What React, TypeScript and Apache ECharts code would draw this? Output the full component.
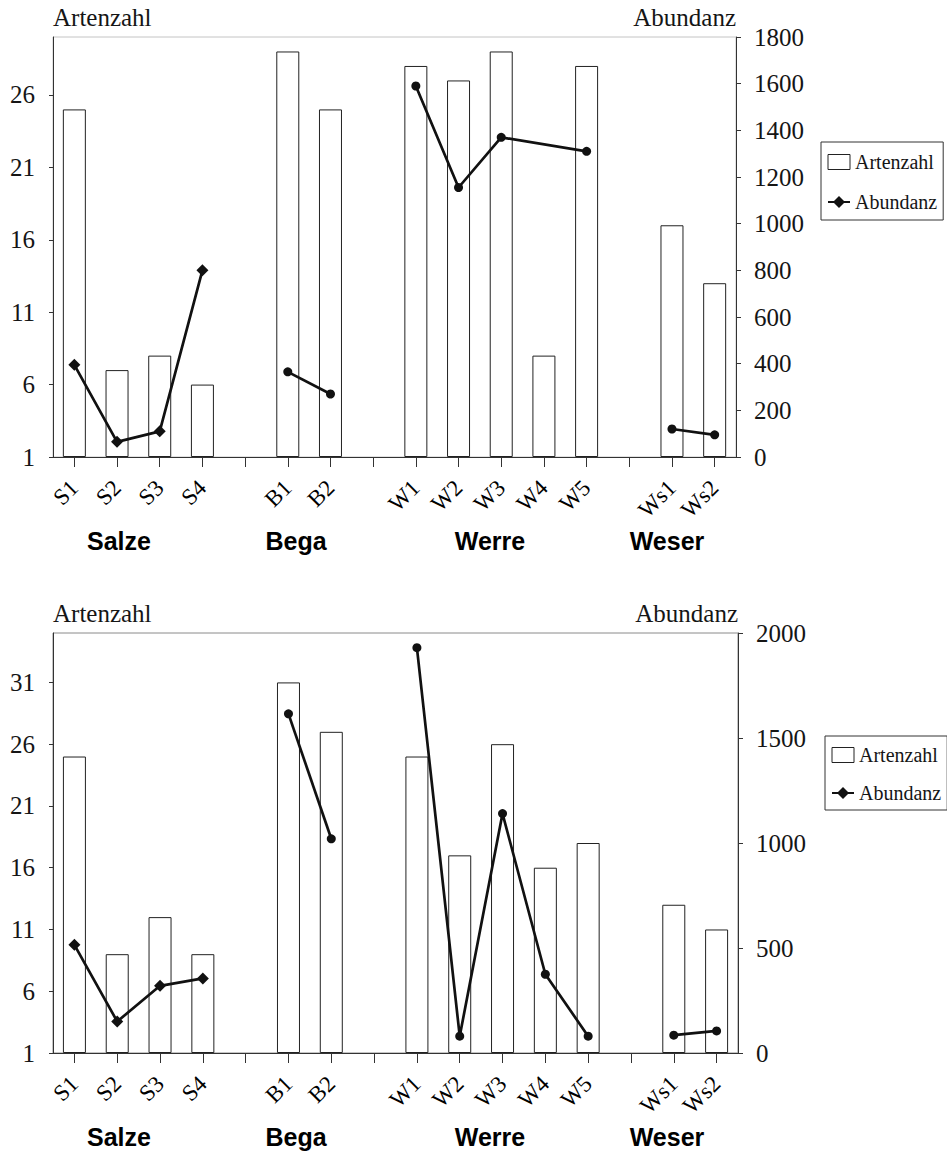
import React, { useEffect, useRef } from 'react';
import * as echarts from 'echarts';

// ---------- data ----------
const groupNames = ['Salze', 'Bega', 'Werre', 'Weser'];
const salzeSites = ['S1', 'S2', 'S3', 'S4'];
const begaSites = ['B1', 'B2'];
const werreSites = ['W1', 'W2', 'W3', 'W4', 'W5'];
const weserSites = ['Ws1', 'Ws2'];
const siteGroups = [salzeSites, begaSites, werreSites, weserSites];

// upper chart
const artenzahlTop = [25, 7, 8, 6, 29, 25, 28, 27, 29, 8, 28, 17, 13];
const abundanzTop: (number | null)[] = [395, 65, 110, 800, 365, 270, 1590, 1155, 1370, null, 1310, 120, 95];
// lower chart
const artenzahlBottom = [25, 9, 12, 9, 31, 27, 25, 17, 26, 16, 18, 13, 11];
const abundanzBottom: (number | null)[] = [515, 150, 320, 355, 1615, 1020, 1930, 80, 1140, 375, 80, 85, 105];

// tick labels
const leftTicksTop = [1, 6, 11, 16, 21, 26];
const rightTicksTop = [0, 200, 400, 600, 800, 1000, 1200, 1400, 1600, 1800];
const leftTicksBottom = [1, 6, 11, 16, 21, 26, 31];
const rightTicksBottom = [0, 500, 1000, 1500, 2000];
const leftMaxTop = 30;
const leftMaxBottom = 35;

// ---------- layout ----------
const SERIF = '"Liberation Serif", "Times New Roman", serif';
const SANS = '"Liberation Sans", Arial, sans-serif';
const INK = '#151515';

const panels = [
  {
    grid: { left: 53, top: 37, width: 683, height: 420 },
    artenzahl: artenzahlTop, abundanz: abundanzTop,
    leftTicks: leftTicksTop, leftMax: leftMaxTop, rightTicks: rightTicksTop,
    legend: { left: 821, top: 142, padding: [10, 6, 8, 6], itemGap: 20 },
    groupLabelY: 541, border: '#c4c4c4',
  },
  {
    grid: { left: 53, top: 633, width: 685, height: 420 },
    artenzahl: artenzahlBottom, abundanz: abundanzBottom,
    leftTicks: leftTicksBottom, leftMax: leftMaxBottom, rightTicks: rightTicksBottom,
    legend: { left: 825, top: 736, padding: [9, 6, 7, 6], itemGap: 18 },
    groupLabelY: 1137, border: '#8a8a8a',
  },
];
const groupLabelX = [119, 296, 490, 667];

function buildCategories() {
  const categories: string[] = [];
  const positions: number[] = [];
  const groupOf: number[] = [];
  siteGroups.forEach((sites, g) => {
    sites.forEach((s) => {
      positions.push(categories.length);
      groupOf.push(g);
      categories.push(s);
    });
    if (g < siteGroups.length - 1) categories.push('gap' + g);
  });
  return { categories, positions, groupOf };
}

export default function App() {
  const ref = useRef<HTMLDivElement>(null);

  useEffect(() => {
    document.body.style.margin = '0';
    if (!ref.current) return;
    const chart = echarts.init(ref.current, undefined, { renderer: 'svg' });
    const { categories, positions, groupOf } = buildCategories();

    const grids: any[] = [];
    const xAxes: any[] = [];
    const yAxes: any[] = [];
    const series: any[] = [];
    const legends: any[] = [];
    const graphics: any[] = [];

    panels.forEach((p, i) => {
      grids.push({ ...p.grid, show: true, borderColor: p.border, borderWidth: 1, backgroundColor: 'transparent' });
      xAxes.push({
        type: 'category', gridIndex: i, data: categories, boundaryGap: true,
        axisLine: { show: true, lineStyle: { color: '#333', width: 1 } },
        axisTick: { show: true, alignWithLabel: true, interval: 0, length: 10, lineStyle: { color: '#333' } },
        axisLabel: {
          interval: 0, rotate: 45, margin: 27, fontFamily: SERIF, fontSize: 23, color: '#000',
          formatter: (v: string) => (v.startsWith('gap') ? '' : v),
        },
        splitLine: { show: false },
      });
      const lt = p.leftTicks;
      yAxes.push({
        type: 'value', gridIndex: i, position: 'left',
        min: lt[0], max: p.leftMax, interval: lt[1] - lt[0], startValue: lt[0],
        name: 'Artenzahl', nameLocation: 'end', nameGap: 20,
        nameTextStyle: { align: 'left', verticalAlign: 'middle', fontFamily: SERIF, fontSize: 25, color: INK },
        axisLine: { show: true, lineStyle: { color: '#333', width: 1 } },
        axisTick: { show: true, length: 4, lineStyle: { color: '#333' } },
        axisLabel: {
          fontFamily: SERIF, fontSize: 25, color: INK, margin: 18, showMaxLabel: false,
          formatter: (v: number) => (lt.includes(v) ? String(v) : ''),
        },
        splitLine: { show: false },
      });
      const rt = p.rightTicks;
      yAxes.push({
        type: 'value', gridIndex: i, position: 'right',
        min: rt[0], max: rt[rt.length - 1], interval: rt[1] - rt[0],
        name: 'Abundanz', nameLocation: 'end', nameGap: 20,
        nameTextStyle: { align: 'right', verticalAlign: 'middle', fontFamily: SERIF, fontSize: 25, color: INK },
        axisLine: { show: true, lineStyle: { color: '#333', width: 1 } },
        axisTick: { show: true, length: 5, lineStyle: { color: '#333' } },
        axisLabel: {
          fontFamily: SERIF, fontSize: 25, color: INK, margin: 18,
          formatter: (v: number) => (rt.includes(v) ? String(v) : ''),
        },
        splitLine: { show: false },
      });

      const barData: (number | null)[] = categories.map(() => null);
      p.artenzahl.forEach((v, k) => { barData[positions[k]] = v; });
      series.push({
        type: 'bar', name: 'Artenzahl', xAxisIndex: i, yAxisIndex: i * 2,
        data: barData, barWidth: 23, clip: true,
        itemStyle: { color: '#ffffff', borderColor: '#222', borderWidth: 1 },
      });

      groupNames.forEach((_, g) => {
        const lineData: (number | null)[] = categories.map(() => null);
        p.abundanz.forEach((v, k) => { if (groupOf[k] === g) lineData[positions[k]] = v; });
        series.push({
          type: 'line', name: 'Abundanz', xAxisIndex: i, yAxisIndex: i * 2 + 1,
          data: lineData, connectNulls: true,
          symbol: g === 0 ? 'diamond' : 'circle', symbolSize: g === 0 ? 12 : 9,
          lineStyle: { color: '#111', width: 2.7 },
          itemStyle: { color: '#111' },
        });
      });

      legends.push({
        orient: 'vertical', left: p.legend.left, top: p.legend.top,
        padding: p.legend.padding, itemGap: p.legend.itemGap,
        itemWidth: 22, itemHeight: 15,
        borderColor: '#333', borderWidth: 1, backgroundColor: '#fff',
        textStyle: { fontFamily: SERIF, fontSize: 20, color: INK },
        data: [
          { name: 'Artenzahl', icon: 'rect', itemStyle: { color: '#fff', borderColor: '#222', borderWidth: 1 } },
          { name: 'Abundanz' },
        ],
        selectedMode: false,
      });

      groupNames.forEach((name, g) => {
        graphics.push({
          type: 'text', x: groupLabelX[g], y: p.groupLabelY,
          style: {
            text: name, fill: '#000', font: `bold 25px ${SANS}`,
            textAlign: 'center', textVerticalAlign: 'middle',
          },
        });
      });
    });

    chart.setOption({
      animation: false,
      backgroundColor: '#fff',
      grid: grids,
      xAxis: xAxes,
      yAxis: yAxes,
      series,
      legend: legends,
      graphic: graphics,
    });
    return () => chart.dispose();
  }, []);

  return <div ref={ref} style={{ position: 'absolute', left: 0, top: 0, width: 947, height: 1154 }} />;
}
